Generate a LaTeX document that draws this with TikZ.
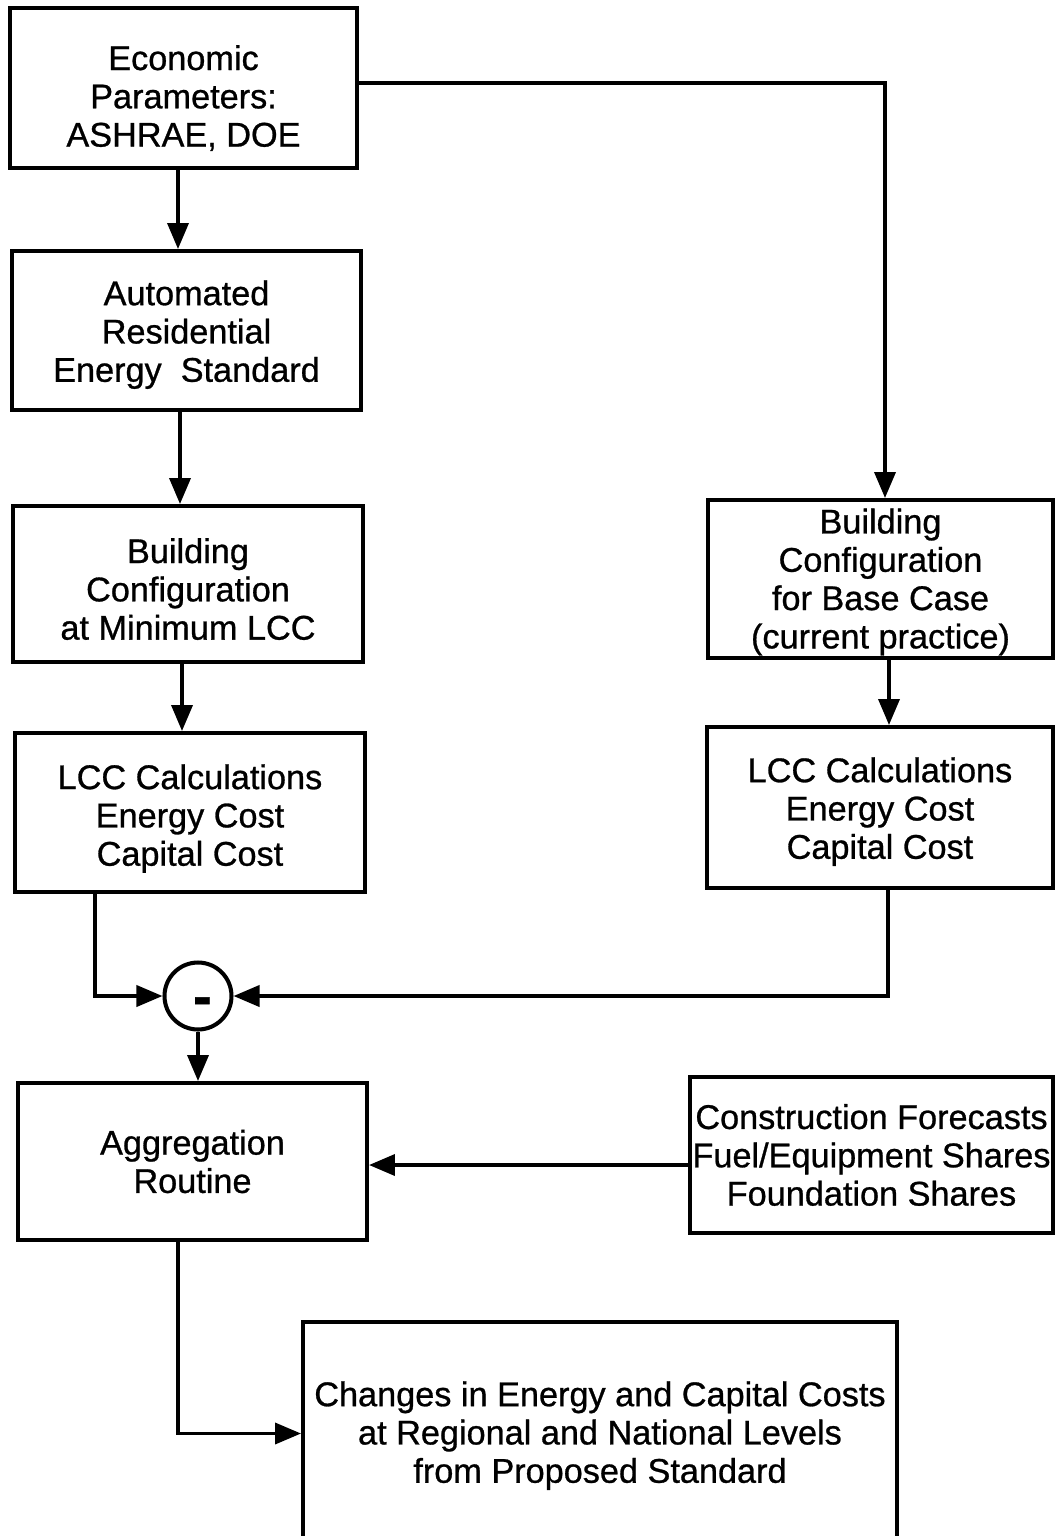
\documentclass[tikz,border=0pt]{standalone}
\usepackage{fontspec}
\setmainfont{Liberation Sans}[FakeBold=0.8]
\usetikzlibrary{arrows.meta}
\newcommand{\sdn}[1]{\rule{0pt}{#1}}
\tikzset{
  box/.style={draw, line width=2.3pt, align=center, inner sep=0pt,
    font=\fontsize{19.5}{21.8}\selectfont},
  arr/.style={line width=2.1pt, -{Triangle[length=0.52cm, width=0.42cm]}},
  sumcirc/.style={draw, circle, line width=2.3pt, minimum size=1.34cm, inner sep=0pt,
    text height=0pt, text depth=0pt, font=\fontsize{32}{32}\bfseries}
}
\begin{document}
\begin{tikzpicture}[x=0.02cm, y=-0.02cm]
\useasboundingbox (0,0) rectangle (1056,1536);
\node[box, minimum width=6.94cm, minimum height=3.2cm] (e1) at (183.5,88)
  {\sdn{25.6pt}Economic\\Parameters:\\ASHRAE, DOE};
\node[box, minimum width=6.98cm, minimum height=3.18cm] (e2) at (186.5,330.5)
  {\sdn{18.8pt}Automated\\Residential\\Energy\ \ Standard};
\node[box, minimum width=7.0cm, minimum height=3.12cm] (e3) at (188,584)
  {\sdn{19.9pt}Building\\Configuration\\at Minimum LCC};
\node[box, minimum width=7.0cm, minimum height=3.18cm] (e4) at (190,812.5)
  {\sdn{21pt}LCC Calculations\\Energy Cost\\Capital Cost};
\node[box, minimum width=6.9cm, minimum height=3.16cm] (r1) at (880.5,579)
  {\sdn{17.6pt}Building\\Configuration\\for Base Case\\(current practice)};
\node[box, minimum width=6.92cm, minimum height=3.22cm] (r2) at (880,807.5)
  {\sdn{18.8pt}LCC Calculations\\Energy Cost\\Capital Cost};
\node[sumcirc] (minus) at (198,996) {\hspace*{5pt}\raisebox{-11pt}{-}};
\node[box, minimum width=6.98cm, minimum height=3.14cm] (agg) at (192.5,1161.5)
  {Aggregation\\Routine};
\node[box, minimum width=7.26cm, minimum height=3.12cm] (cf) at (871.5,1155)
  {Construction Forecasts\\Fuel/Equipment Shares\\Foundation Shares};
\node[box, minimum width=11.88cm, minimum height=4.46cm] (ch) at (600,1433.5)
  {\sdn{16.5pt}Changes in Energy and Capital Costs\\at Regional and National Levels\\from Proposed Standard};

\draw[arr] ([xshift=-0.11cm]e1.south) -- ([xshift=-0.11cm]e1.south |- e2.north);
\draw[arr] ([yshift=0.1cm]e1.east) -| ([xshift=0.09cm]r1.north);
\draw[arr] ([xshift=-0.13cm]e2.south) -- ([xshift=-0.13cm]e2.south |- e3.north);
\draw[arr] ([xshift=-0.12cm]e3.south) -- ([xshift=-0.12cm]e3.south |- e4.north);
\draw[arr] ([xshift=0.17cm]r1.south) -- ([xshift=0.17cm]r1.south |- r2.north);
\draw[arr] ([xshift=-1.9cm]e4.south) |- (minus.west);
\draw[arr] ([xshift=0.16cm]r2.south) |- (minus.east);
\draw[arr] (minus.south) -- (minus.south |- agg.north);
\draw[arr] ([yshift=-0.2cm]cf.west) -- ([yshift=-0.2cm]cf.west -| agg.east);
\draw[arr] ([xshift=-0.29cm]agg.south) |- (ch.west);
\end{tikzpicture}
\end{document}
